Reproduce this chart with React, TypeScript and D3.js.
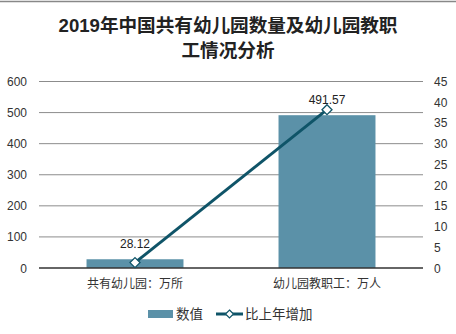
import React from "react";
import * as d3 from "d3";

const categories = ["共有幼儿园：万所", "幼儿园教职工：万人"];
const values = [28.12, 491.57];
const growth = [1.3, 38.2];
const leftTicks = [0, 100, 200, 300, 400, 500, 600];
const rightTicks = [0, 5, 10, 15, 20, 25, 30, 35, 40, 45];
const titleLines = ["2019年中国共有幼儿园数量及幼儿园教职", "工情况分析"];

const W = 456, H = 334;
const m = { left: 39, right: 423, top: 81.5, bottom: 268 };
const FONT = "'Liberation Sans', Arial, 'Noto Sans CJK SC', sans-serif";
const BAR = "#5B91A8";
const LINE = "#0F5468";

export default function App() {
  const x = d3.scaleBand<string>().domain(categories).range([m.left, m.right]).paddingInner(0).paddingOuter(0);
  const yL = d3.scaleLinear().domain([0, 600]).range([m.bottom, m.top]);
  const yR = d3.scaleLinear().domain([0, 45]).range([m.bottom, m.top]);
  const bw = x.bandwidth() * 0.505;
  const cx = (c: string) => (x(c) as number) + x.bandwidth() / 2;
  const line = d3.line<number>().x((_, i) => cx(categories[i])).y((d) => yR(d));
  const diamond = (px: number, py: number, r = 5) =>
    `M${px},${py - r}L${px + r},${py}L${px},${py + r}L${px - r},${py}Z`;

  return (
    <svg width={W} height={H} style={{ position: "absolute", left: 0, top: 0, background: "#fff" }} fontFamily={FONT}>
      <rect x={0} y={0} width={W} height={H} fill="#fff" />
      <line x1={0} x2={W} y1={1.5} y2={1.5} stroke="#888" strokeWidth={1.5} />
      {titleLines.map((t, i) => (
        <text key={i} x={228} y={31.5 + i * 25} textAnchor="middle" fontSize={18.6} fontWeight="bold" fill="#222">
          {t}
        </text>
      ))}
      {leftTicks.map((t) => (
        <g key={"l" + t}>
          {t !== 0 && (
            <line x1={m.left} x2={m.right} y1={yL(t)} y2={yL(t)} stroke="#8c8c8c" strokeWidth={1} />
          )}
          <text x={27} y={yL(t) + 4.5} textAnchor="end" fontSize={12} fill="#333">
            {t}
          </text>
        </g>
      ))}
      {rightTicks.map((t) => (
        <text key={"r" + t} x={434} y={yR(t) + 4.5} textAnchor="start" fontSize={12} fill="#333">
          {t}
        </text>
      ))}
      {categories.map((c, i) => (
        <rect key={c} x={cx(c) - bw / 2} y={yL(values[i])} width={bw} height={m.bottom - yL(values[i])} fill={BAR} />
      ))}
      <line x1={m.left} x2={m.right} y1={m.bottom} y2={m.bottom} stroke="#333" strokeWidth={1.3} />
      <path d={line(growth) || ""} fill="none" stroke={LINE} strokeWidth={3} />
      {growth.map((g, i) => (
        <path key={i} d={diamond(cx(categories[i]), yR(g))} fill="#fff" stroke={LINE} strokeWidth={1.3} />
      ))}
      {categories.map((c, i) => (
        <text key={"v" + c} x={cx(c)} y={yL(values[i]) - 11} textAnchor="middle" fontSize={12} fill="#222">
          {values[i].toFixed(2)}
        </text>
      ))}
      {categories.map((c) => (
        <text key={"c" + c} x={cx(c)} y={288} textAnchor="middle" fontSize={12} fill="#333">
          {c}
        </text>
      ))}
      <rect x={148} y={310} width={25} height={8} fill={BAR} />
      <text x={176} y={319} fontSize={13.5} fill="#333">数值</text>
      <line x1={216} x2={243} y1={314} y2={314} stroke={LINE} strokeWidth={3} />
      <path d={diamond(229.5, 314, 4)} fill="#fff" stroke={LINE} strokeWidth={1.2} />
      <text x={245} y={319} fontSize={13.5} fill="#333">比上年增加</text>
    </svg>
  );
}
